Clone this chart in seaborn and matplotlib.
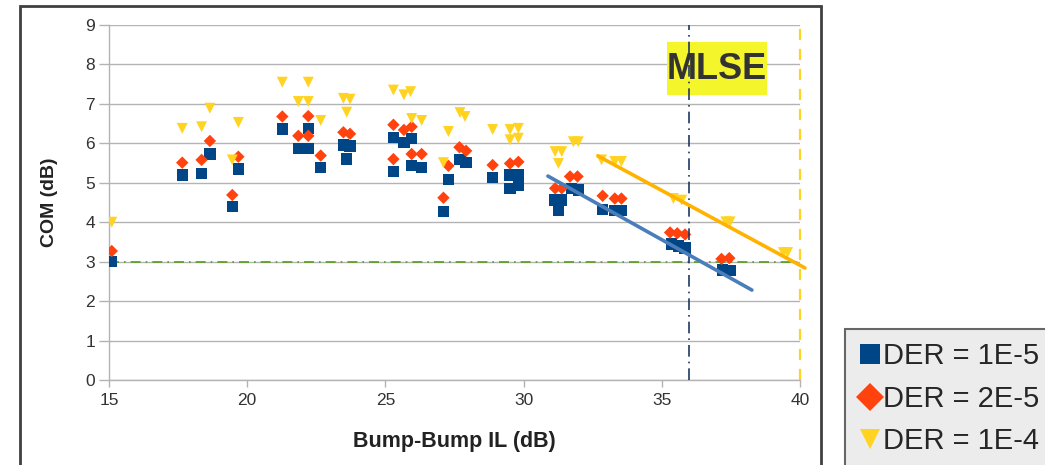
import numpy as np
import pandas as pd
import matplotlib
matplotlib.use("Agg")
import matplotlib.pyplot as plt
import matplotlib.patches as mpatches
import seaborn as sns

# ---------------- data ----------------
series_names = ["DER = 1E-5", "DER = 2E-5", "DER = 1E-4"]

x_1e5 = [15.1, 17.65, 18.35, 18.65, 19.46, 19.68, 21.27, 21.85, 22.21, 22.21, 22.66,
         23.48, 23.72, 23.6, 25.29, 25.29, 25.67, 25.95, 25.95, 26.31, 27.1, 27.28,
         27.7, 27.92, 28.88, 29.51, 29.81, 29.51, 29.81, 31.14, 31.38, 31.26, 31.74,
         31.98, 32.86, 33.3, 33.54, 35.36, 35.6, 35.84, 37.2, 37.47]
y_1e5 = [3.0, 5.2, 5.24, 5.73, 4.39, 5.35, 6.36, 5.87, 5.87, 6.38, 5.39,
         5.96, 5.93, 5.6, 6.15, 5.28, 6.02, 6.13, 5.43, 5.39, 4.27, 5.09,
         5.59, 5.51, 5.14, 5.2, 5.2, 4.86, 4.94, 4.56, 4.56, 4.29, 4.86,
         4.82, 4.33, 4.29, 4.29, 3.45, 3.4, 3.35, 2.79, 2.77]

x_2e5 = [15.1, 17.65, 18.35, 18.65, 19.46, 19.68, 21.27, 21.85, 22.21, 22.21, 22.66,
         23.48, 23.72, 25.29, 25.29, 25.67, 25.95, 25.95, 26.31, 27.1, 27.28, 27.68,
         27.92, 28.88, 29.51, 29.81, 31.14, 31.38, 31.68, 31.95, 32.86, 33.3, 33.54,
         35.3, 35.56, 35.84, 37.16, 37.44]
y_2e5 = [3.27, 5.51, 5.58, 6.06, 4.69, 5.66, 6.68, 6.19, 6.19, 6.69, 5.69,
         6.28, 6.24, 6.47, 5.6, 6.34, 6.42, 5.73, 5.73, 4.62, 5.43, 5.9,
         5.81, 5.45, 5.49, 5.53, 4.86, 4.86, 5.16, 5.16, 4.67, 4.6, 4.6,
         3.74, 3.72, 3.69, 3.07, 3.09]

x_1e4 = [15.1, 17.65, 18.35, 18.65, 19.46, 19.68, 21.27, 21.85, 22.21, 22.21, 22.66,
         23.48, 23.72, 23.6, 25.29, 25.67, 25.91, 25.95, 26.31, 27.1, 27.28, 27.7,
         27.88, 28.88, 29.51, 29.81, 29.51, 29.81, 31.14, 31.38, 31.26, 31.8, 31.98,
         32.82, 33.3, 33.54, 35.42, 35.72, 37.32, 37.47, 39.4, 39.55]
y_1e4 = [4.0, 6.38, 6.42, 6.89, 5.58, 6.53, 7.55, 7.06, 7.06, 7.55, 6.58,
         7.14, 7.12, 6.79, 7.35, 7.23, 7.31, 6.63, 6.58, 5.51, 6.3, 6.78,
         6.68, 6.35, 6.35, 6.38, 6.09, 6.13, 5.79, 5.79, 5.49, 6.04, 6.04,
         5.58, 5.54, 5.54, 4.6, 4.56, 4.01, 4.01, 3.23, 3.23]

# trend lines (hand-drawn annotations)
trend_blue_x = [30.88, 38.26]
trend_blue_y = [5.17, 2.28]
trend_orange_x = [32.69, 40.18]
trend_orange_y = [5.68, 2.84]

com_limit = 3.0
mlse_x = 36.0
il_limit = 40.0

x_ticks = [15, 20, 25, 30, 35, 40]
y_ticks = list(range(0, 10))

colors = {"DER = 1E-5": "#004586", "DER = 2E-5": "#ff420e", "DER = 1E-4": "#ffd320"}
markers = {"DER = 1E-5": "s", "DER = 2E-5": "D", "DER = 1E-4": "v"}
marker_sizes = {"DER = 1E-5": 66, "DER = 2E-5": 40, "DER = 1E-4": 62}

df = pd.concat([
    pd.DataFrame({"IL": x_1e5, "COM": y_1e5, "Series": series_names[0]}),
    pd.DataFrame({"IL": x_2e5, "COM": y_2e5, "Series": series_names[1]}),
    pd.DataFrame({"IL": x_1e4, "COM": y_1e4, "Series": series_names[2]}),
], ignore_index=True)

# ---------------- style ----------------
sns.set_style("white")
plt.rcParams["font.family"] = ["Liberation Sans", "DejaVu Sans"]

fig = plt.figure(figsize=(10.45, 4.65), dpi=100)
ax = fig.add_axes([109 / 1045, 1 - 380 / 465, 691 / 1045, 355 / 465])

# outer frame of the chart
fig.add_artist(mpatches.Rectangle((20 / 1045, -0.1), (821 - 20) / 1045, 1.087,
                                  transform=fig.transFigure, fill=False,
                                  edgecolor="#404040", linewidth=2, clip_on=False))

# grid
for yv in y_ticks:
    ax.axhline(yv, color="#b3b3b3", linewidth=1, zorder=0)

sns.scatterplot(data=df, x="IL", y="COM", hue="Series", style="Series", size="Series",
                palette=colors, markers=markers, sizes=marker_sizes,
                hue_order=series_names, style_order=series_names, size_order=series_names,
                linewidth=0, ax=ax, zorder=3)

# reference lines
ax.axhline(com_limit, color="#579d1c", linewidth=1.2, linestyle=(0, (6, 3, 1, 3)), zorder=2)
ax.axvline(il_limit, color="#ffd320", linewidth=1.6, linestyle=(0, (5, 4)), zorder=2, clip_on=False)

# MLSE box
ax.add_patch(mpatches.Rectangle((35.19, 7.23), 3.62, 1.34, facecolor="#f5f52c",
                                edgecolor="none", zorder=4))
ax.axvline(mlse_x, color="#1f3864", linewidth=1.2, linestyle=(0, (7, 3, 1, 3)), zorder=5)
ax.text(37.0, 7.88, "MLSE", ha="center", va="center", fontsize=26, fontweight="bold",
        color="#333333", zorder=6)

# trend lines
ax.plot(trend_blue_x, trend_blue_y, color="#4a7ebb", linewidth=2.6, zorder=7, clip_on=False)
ax.plot(trend_orange_x, trend_orange_y, color="#ffb300", linewidth=2.6, zorder=7, clip_on=False)

ax.set_xlim(15, 40)
ax.set_ylim(0, 9)
ax.set_xticks(x_ticks)
ax.set_yticks(y_ticks)
for s in ["top", "right"]:
    ax.spines[s].set_visible(False)
for s in ["left", "bottom"]:
    ax.spines[s].set_color("#b3b3b3")
    ax.spines[s].set_linewidth(1)
ax.tick_params(axis="y", left=True, length=7, width=1, color="#b3b3b3",
               labelsize=12.5, labelcolor="#333333", pad=3)
ax.tick_params(axis="x", bottom=True, length=5, width=1, color="#b3b3b3",
               labelsize=12.5, labelcolor="#333333", pad=4)

ax.set_xlabel("Bump-Bump IL (dB)", fontsize=15.5, fontweight="bold", color="#222222", labelpad=17)
ax.set_ylabel("COM (dB)", fontsize=14, fontweight="bold", color="#222222", labelpad=20)

sns.move_legend(ax, loc="upper left", bbox_to_anchor=(845 / 1045, 1 - 329 / 465),
                bbox_transform=fig.transFigure, title=None, frameon=True, fontsize=21,
                markerscale=1.0, handletextpad=0.05, labelspacing=0.5, borderpad=0.45,
                handlelength=0.8, borderaxespad=0, fancybox=False)
leg = ax.get_legend()
leg.get_frame().set_facecolor("#ececec")
leg.get_frame().set_edgecolor("#666666")
leg.get_frame().set_linewidth(1.5)
leg.get_frame().set_alpha(1)
for h in leg.legend_handles:
    try:
        h.set_markersize(14)
    except Exception:
        pass

fig.savefig("out.png", dpi=100)
